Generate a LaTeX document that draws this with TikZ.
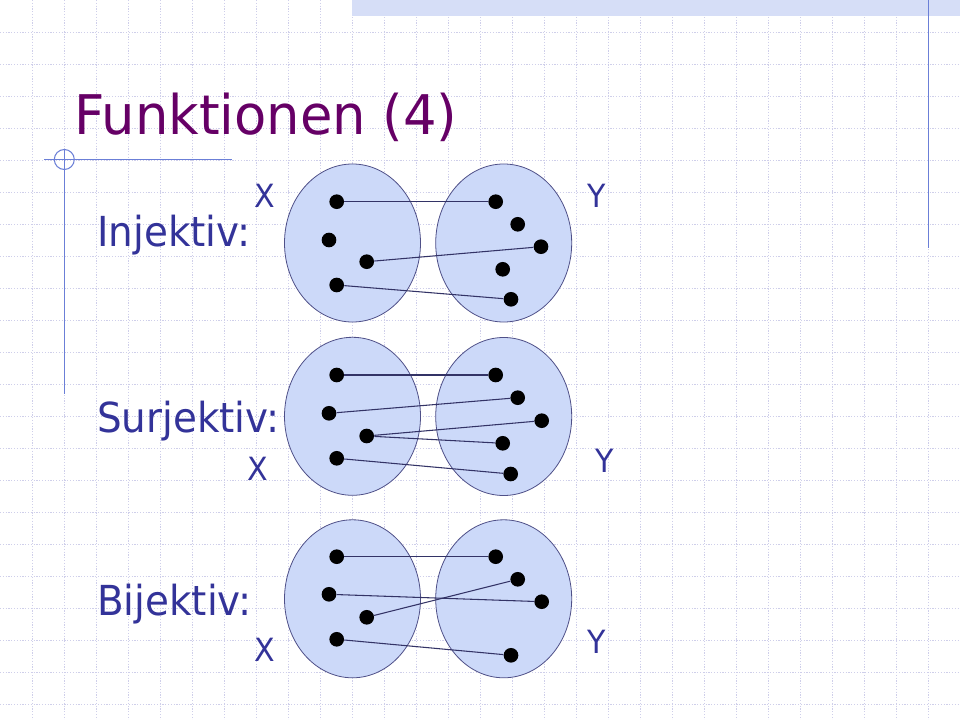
\documentclass[tikz,border=0pt]{standalone}
\usepackage{fontspec}
\usetikzlibrary{shapes.geometric}
\newfontfamily\tfont[FakeStretch=0.94]{DejaVu Sans}
\newfontfamily\ttlfont[FakeStretch=0.965]{DejaVu Sans}
\definecolor{titlec}{HTML}{660066}
\definecolor{textc}{HTML}{333399}
\definecolor{decoc}{HTML}{6B7FD7}
\definecolor{gridc}{HTML}{CFCFEA}
\definecolor{barc}{HTML}{D6DEF7}
\definecolor{ellfill}{HTML}{CCD9F9}
\definecolor{elldraw}{HTML}{4F5088}
\definecolor{linec}{HTML}{333366}
\tikzset{
  gridline/.style={draw=gridc, line width=0.75pt, dash pattern=on 0.9pt off 1.2pt},
  deco/.style={draw=decoc, line width=1pt},
  ell/.style={ellipse, draw=elldraw, line width=0.6pt, fill=ellfill, minimum width=102pt, minimum height=118.5pt, inner sep=0pt},
  pt/.style={circle, fill=black, minimum size=11pt, inner sep=0pt},
  conn/.style={draw=linec, line width=0.8pt},
  lab/.style={font=\tfont\fontsize{31}{36}\selectfont, text=textc, anchor=base west, inner sep=0pt},
  xy/.style={font=\tfont\fontsize{24}{28}\selectfont, text=textc, anchor=base, inner sep=0pt},
}
\begin{document}
\begin{tikzpicture}[x=0.75pt, y=-0.75pt]
\useasboundingbox (0,0) rectangle (960,720);
\fill[white] (0,0) rectangle (960,720);
% grid
\foreach \i in {1,...,29} {\draw[gridline] ({32*\i+0.5},0) -- ({32*\i+0.5},720);}
\foreach \j in {1,...,22} {\draw[gridline] (0,{32*\j+0.5}) -- (960,{32*\j+0.5});}
% top bar
\fill[barc] (352,0) rectangle (960,16);
% decorations
\draw[deco] (928.3,0) -- (928.3,248.3);
\draw[deco] (44,159.5) -- (231.5,159.5);
\draw[deco] (64.3,149.5) -- (64.3,394);
\draw[draw=decoc, line width=0.8pt] (64.3,159.5) circle[radius=10];
% title
\node[font=\ttlfont\fontsize{41}{48}\selectfont, text=titlec, anchor=base west, inner sep=0pt] (title) at (74,135) {Funktionen (4)};
% labels
\node[lab] (inj) at (97,247) {Injektiv:};
\node[lab] (surj) at (97,432) {Surjektiv:};
\node[lab] (bij) at (97,615) {Bijektiv:};
\node[xy] (x1) at (265,207.3) {X};
\node[xy] (y1) at (596.5,207.3) {Y};
\node[xy] (x2) at (257.5,480) {X};
\node[xy] (y2) at (605,472) {Y};
\node[xy] (x3) at (265,661.7) {X};
\node[xy] (y3) at (597,653) {Y};
% Injektiv
\node[ell] (e1l) at (352.5,243) {};
\node[ell] (e1r) at (503.7,243) {};
\node[pt] (a1) at (336.7,201.7) {};
\node[pt] (a2) at (329,240) {};
\node[pt] (a3) at (366.7,261.7) {};
\node[pt] (a4) at (336.7,285) {};
\node[pt] (b1) at (495.7,201.7) {};
\node[pt] (b2) at (517.7,224.3) {};
\node[pt] (b3) at (541,246.7) {};
\node[pt] (b4) at (502.7,269.3) {};
\node[pt] (b5) at (511,299.3) {};
\draw[conn] (a1) -- (b1);
\draw[conn] (a3) -- (b3);
\draw[conn] (a4) -- (b5);
% Surjektiv
\node[ell] (e2l) at (352.5,416.3) {};
\node[ell] (e2r) at (503.7,416.5) {};
\node[pt] (c1) at (336.7,375) {};
\node[pt] (c2) at (329,413.3) {};
\node[pt] (c3) at (366.7,436) {};
\node[pt] (c4) at (336.7,458.3) {};
\node[pt] (d1) at (495.7,375) {};
\node[pt] (d2) at (517.7,397.7) {};
\node[pt] (d3) at (541.7,420.7) {};
\node[pt] (d4) at (502.7,443.3) {};
\node[pt] (d5) at (510.7,474) {};
\draw[conn] (c1) -- (d1);
\draw[conn] (c2) -- (d2);
\draw[conn] (c3) -- (d3);
\draw[conn] (c3) -- (d4);
\draw[conn] (c4) -- (d5);
% Bijektiv
\node[ell] (e3l) at (352.5,598.8) {};
\node[ell] (e3r) at (503.7,598.8) {};
\node[pt] (f1) at (336.7,556.7) {};
\node[pt] (f2) at (329,594.3) {};
\node[pt] (f3) at (366.7,617.3) {};
\node[pt] (f4) at (336.7,639.3) {};
\node[pt] (g1) at (495.7,556.7) {};
\node[pt] (g2) at (517.7,579.3) {};
\node[pt] (g3) at (541.7,601.7) {};
\node[pt] (g5) at (511,655.3) {};
\draw[conn] (f1) -- (g1);
\draw[conn] (f2) -- (g3);
\draw[conn] (f3) -- (g2);
\draw[conn] (f4) -- (g5);
\end{tikzpicture}
\end{document}
